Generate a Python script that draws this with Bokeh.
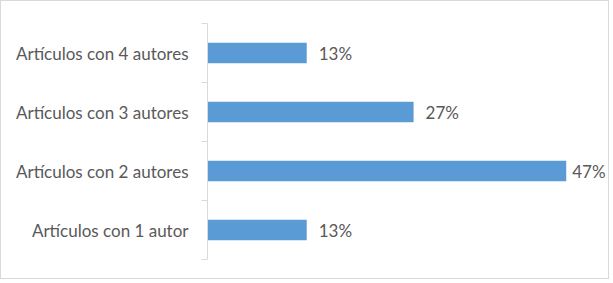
from bokeh.plotting import figure
from bokeh.models import ColumnDataSource, FixedTicker, Range1d
from bokeh.embed import file_html
from bokeh.resources import INLINE
from bokeh.core.properties import value

# ---- data ----
categories = ["Artículos con 1 autor", "Artículos con 2 autores",
              "Artículos con 3 autores", "Artículos con 4 autores"]
percent = [13, 47, 27, 13]
value_labels = ["13%", "47%", "27%", "13%"]

# ---- layout helpers (styles) ----
pos = [i + 0.5 for i in range(len(categories))]
label_offset = [12, 6, 12, 12]
FONT = "Lato"
TXT = "#595959"
GRID = "#d9d9d9"

src = ColumnDataSource(dict(y=pos, right=percent, label=value_labels, dx=label_offset))

p = figure(width=609, height=279, output_backend="svg", toolbar_location=None,
           x_range=Range1d(0, 52.8), y_range=Range1d(0, len(categories)),
           min_border_left=206, min_border_right=0, min_border_top=22,
           min_border_bottom=21, x_axis_location=None)
p.styles = {"border": "1px solid #d9d9d9"}
p.grid.visible = False
p.outline_line_color = None

p.hbar(y="y", left=0, right="right", height=0.35, source=src,
       fill_color="#5B9BD5", line_color=None)
p.text(x="right", y="y", text="label", x_offset="dx", source=src,
       text_baseline="middle", text_align="left", text_font=value(FONT),
       text_font_size="17px", text_color=TXT)

ax = p.yaxis[0]
ax.ticker = FixedTicker(ticks=pos, minor_ticks=list(range(len(categories) + 1)))
ax.major_label_overrides = {pos[i]: categories[i] for i in range(len(categories))}
ax.major_tick_in = 0
ax.major_tick_out = 0
ax.minor_tick_in = 0
ax.minor_tick_out = 6
ax.minor_tick_line_color = GRID
ax.axis_line_color = GRID
ax.major_label_standoff = 13
ax.major_label_text_font = FONT
ax.major_label_text_font_size = "17px"
ax.major_label_text_color = TXT

open("out.html", "w").write(file_html(p, INLINE))
